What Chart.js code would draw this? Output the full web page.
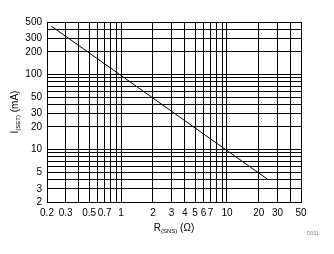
<!DOCTYPE html>
<html>
<head>
<meta charset="utf-8">
<script src="https://cdn.jsdelivr.net/npm/chart.js@4"></script>
<style>
  html, body { margin: 0; padding: 0; background: #fff; }
  #wrap { width: 334px; height: 254px; }
</style>
</head>
<body>
<div id="wrap"><canvas id="chart"></canvas></div>
<script>
// Data
const rSense = [0.22, 1, 10, 24];
const iSet = [440, 97, 9.7, 4.05];

const xTickLabels = [0.2, 0.3, 0.5, 0.7, 1, 2, 3, 4, 5, 6, 7, 10, 20, 30, 50];
const yTickLabels = [2, 3, 5, 10, 20, 30, 50, 100, 200, 300, 500];

// every 1..9 multiple gets a grid line
function logGrid(min, max) {
  const out = [];
  for (let d = -3; d <= 3; d++) {
    for (let m = 1; m <= 9; m++) {
      const v = +(m * Math.pow(10, d)).toPrecision(3);
      if (v >= min - 1e-9 && v <= max + 1e-9) out.push(v);
    }
  }
  return out;
}

const font = "'Liberation Sans', Arial, sans-serif";

// axis titles with subscripts + watermark
const titles = {
  id: 'titles',
  afterDraw(chart) {
    const ctx = chart.ctx;
    const a = chart.chartArea;
    ctx.save();
    ctx.fillStyle = '#000';
    ctx.textBaseline = 'alphabetic';

    function drawParts(parts, x, y) {
      // measure
      let w = 0;
      parts.forEach(p => {
        ctx.font = (p.sub ? '6px ' : '10px ') + font;
        w += ctx.measureText(p.t).width;
      });
      let cx = x - w / 2;
      parts.forEach(p => {
        ctx.font = (p.sub ? '6px ' : '10px ') + font;
        ctx.textAlign = 'left';
        ctx.fillText(p.t, cx, y + (p.sub ? 2 : 0));
        cx += ctx.measureText(p.t).width;
      });
    }

    // x title
    drawParts([{ t: 'R' }, { t: '(SNS)', sub: true }, { t: ' (\u03A9)' }], (a.left + a.right) / 2, 231);

    // y title (rotated)
    ctx.save();
    ctx.translate(18, (a.top + a.bottom) / 2);
    ctx.rotate(-Math.PI / 2);
    drawParts([{ t: 'I' }, { t: '(SET)', sub: true }, { t: ' (mA)' }], 0, 0);
    ctx.restore();

    ctx.font = '5px ' + font;
    ctx.fillStyle = '#888';
    ctx.textAlign = 'left';
    ctx.fillText('D001', 307, 235);
    ctx.restore();
  }
};

new Chart(document.getElementById('chart'), {
  type: 'line',
  data: {
    datasets: [{
      data: rSense.map((r, i) => ({ x: r, y: iSet[i] })),
      borderColor: '#000',
      borderWidth: 1,
      pointRadius: 0,
      tension: 0,
      fill: false
    }]
  },
  options: {
    responsive: true,
    maintainAspectRatio: false,
    animation: false,
    layout: { padding: { top: 22, right: 33, left: 0, bottom: 0 } },
    plugins: { legend: { display: false }, tooltip: { enabled: false } },
    scales: {
      x: {
        type: 'logarithmic',
        min: 0.2,
        max: 50,
        afterBuildTicks: s => { s.ticks = logGrid(0.2, 50).map(v => ({ value: v })); },
        afterFit: s => { s.height = 52; },
        grid: { color: '#000', lineWidth: 1, drawTicks: false },
        border: { color: '#000', width: 1 },
        ticks: {
          autoSkip: false,
          maxRotation: 0,
          padding: 5,
          color: '#000',
          font: { family: font, size: 10 },
          callback: v => xTickLabels.some(t => Math.abs(t - v) < 1e-9) ? String(v) : ''
        }
      },
      y: {
        type: 'logarithmic',
        min: 2,
        max: 500,
        afterBuildTicks: s => { s.ticks = logGrid(2, 500).map(v => ({ value: v })); },
        afterFit: s => { s.width = 47; },
        grid: { color: '#000', lineWidth: 1, drawTicks: false },
        border: { color: '#000', width: 1 },
        ticks: {
          autoSkip: false,
          padding: 5,
          color: '#000',
          font: { family: font, size: 10 },
          callback: v => yTickLabels.some(t => Math.abs(t - v) < 1e-9) ? String(v) : ''
        }
      }
    }
  },
  plugins: [titles]
});
</script>
</body>
</html>
